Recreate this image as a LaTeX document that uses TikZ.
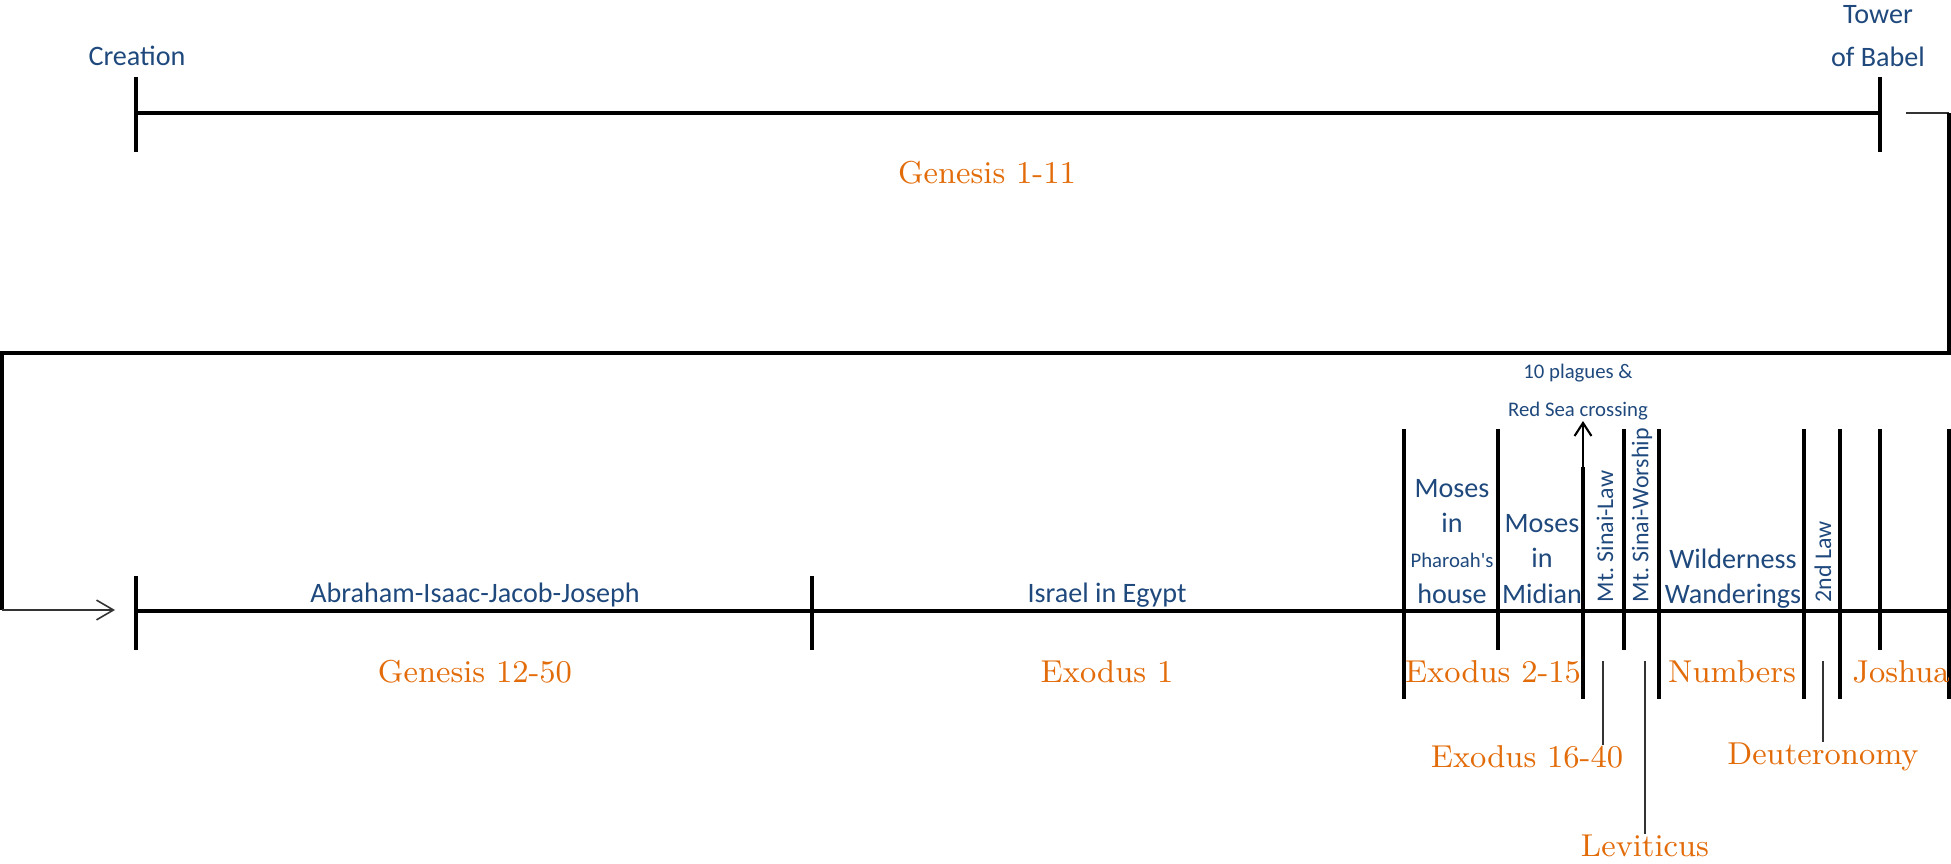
\documentclass[tikz,border=0pt]{standalone}
\usepackage{fontspec}
\newfontfamily\calibri{Carlito}
\usetikzlibrary{arrows.meta}

\definecolor{eraBlue}{RGB}{31,73,125}
\definecolor{bookOrange}{RGB}{227,108,10}

\tikzset{
  timeline/.style={line width=0.9pt},
  leaderline/.style={line width=0.45pt, black!80},
  era/.style={text=eraBlue, inner sep=0pt, align=center, font=\calibri\fontsize{8}{10}\selectfont},
  erasmall/.style={era, font=\calibri\fontsize{5.9}{11}\selectfont},
  eraup/.style={era, rotate=90, anchor=west, font=\calibri\fontsize{6.8}{8}\selectfont},
  book/.style={text=bookOrange, inner sep=0pt, font=\fontsize{9}{11}\selectfont},
}

\begin{document}
\begin{tikzpicture}[x=0.01cm,y=-0.01cm]
\useasboundingbox (0,0) rectangle (1951,864);

% first line: Genesis 1-11
\draw[timeline] (136,113) -- (1880,113);
\foreach \x in {136,1880}
  \draw[timeline] (\x,77) -- (\x,152);
\node[era] (creation) at (137,56) {Creation};
\node[era, font=\calibri\fontsize{8}{12}\selectfont] (babel) at (1878,36) {Tower\\of Babel};
\node[book] (gen111) at (987,173) {Genesis 1-11};

% wrap round to the second line
\coordinate (wrapstart) at (1906,113);
\coordinate (wrapend) at (115,610);
\draw[leaderline] (wrapstart) -- (1949,113);
\draw[timeline] (1949,113) -- (1949,353) -- (2,353) -- (2,610);
\draw[leaderline, -{Straight Barb[length=4.8pt,width=5.6pt]}] (2,610) -- (wrapend);

% second line
\draw[timeline] (136,611) -- (1951,611);
\foreach \x in {136,812}
  \draw[timeline] (\x,576) -- (\x,650);
\foreach \x in {1404,1659,1804,1840,1949}
  \draw[timeline] (\x,429) -- (\x,699);
\foreach \x in {1498,1624,1880}
  \draw[timeline] (\x,429) -- (\x,650);
\draw[timeline] (1583,467) -- (1583,699);

% eras
\node[era, anchor=base] (abraham) at (475,603) {Abraham-Isaac-Jacob-Joseph};
\node[era, anchor=base] (egypt) at (1107,603) {Israel in Egypt};
\node[era, anchor=south] (pharaoh) at (1452,604) {Moses\\in\\{\fontsize{5.9}{10}\selectfont Pharoah's}\\house};
\node[era, anchor=south] (midian) at (1542,604) {Moses\\in\\Midian};
\node[eraup] (sinailaw) at (1605,603) {Mt.\ Sinai-Law};
\node[eraup] (sinaiworship) at (1642,603) {Mt.\ Sinai-Worship};
\node[era, anchor=south] (wilderness) at (1733,609) {Wilderness\\Wanderings};
\node[eraup] (secondlaw) at (1823,603) {2nd Law};

% 10 plagues
\node[erasmall] (plagues) at (1578,392) {10 plagues \&\\Red Sea crossing};
\coordinate (plaguebase) at (1583,467);
\draw[line width=0.6pt, -{Straight Barb[length=3.7pt,width=4.8pt]}] (plaguebase) -- (plaguebase |- plagues.south);

% books
\node[book] (gen1250) at (475,672) {Genesis 12-50};
\node[book] (exo1) at (1107,672) {Exodus 1};
\node[book] (exo215) at (1493,672) {Exodus 2-15};
\node[book] (numbers) at (1732,672) {Numbers};
\node[book] (joshua) at (1901,672) {Joshua};
\node[book] (exo1640) at (1527,757) {Exodus 16-40};
\node[book] (deut) at (1823,757) {Deuteronomy};
\node[book] (levit) at (1645,846) {Leviticus};

% leaders to the books below
\draw[leaderline] (1603,661) -- (1603,661 |- exo1640.north);
\draw[leaderline] (1645,661) -- (levit.north);
\draw[leaderline] (1823,661) -- (deut.north);

\end{tikzpicture}
\end{document}
